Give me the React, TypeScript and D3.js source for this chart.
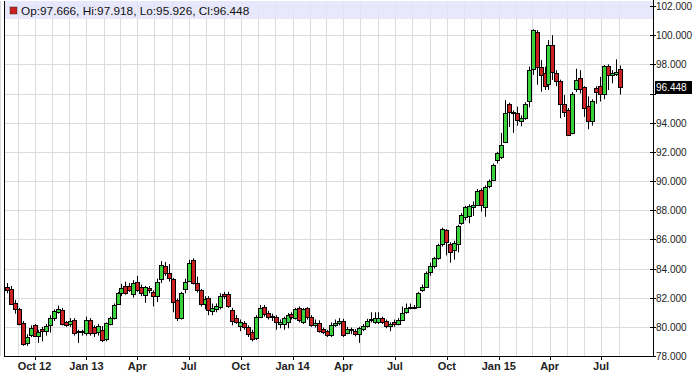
import React, { useEffect, useRef } from 'react';
import * as d3 from 'd3';

// weekly candles, one per Monday
const weeks = d3.timeMonday.range(new Date(2012, 7, 13), new Date(2015, 7, 4));

const opens = [
  82.7, 82.6, 81.65, 81.2, 80.25, 78.9, 79.45, 80.1, 79.4, 79.85, 79.7, 80.1, 80.6, 81.0, 81.15, 80.3,
  80.2, 80.45, 79.7, 79.65, 79.6, 80.5, 80.0, 79.65, 79.8, 79.15, 80.2, 80.6, 81.6, 82.3, 82.8, 82.8,
  82.25, 83.05, 82.7, 82.18, 82.64, 82.4, 82.1, 83.26, 84.17, 83.67, 83.26, 81.84, 80.6, 82.57, 83.17, 84.58,
  82.98, 82.53, 81.57, 81.96, 81.1, 81.2, 81.34, 82.25, 82.25, 81.16, 80.6, 80.06, 80.29, 80.0, 79.67, 79.25,
  80.7, 81.34, 80.93, 80.75, 80.65, 80.2, 80.2, 80.3, 80.88, 80.6, 81.27, 80.36, 81.27, 80.7, 80.13, 80.29,
  79.83, 79.74, 79.44, 80.13, 80.24, 80.43, 79.6, 79.82, 79.74, 79.5, 79.83, 80.06, 80.45, 80.36, 80.35, 80.58,
  80.4, 80.05, 80.35, 80.2, 80.5, 81.0, 81.28, 81.3, 81.38, 82.5, 82.75, 83.78, 84.19, 84.69, 85.67, 86.63,
  85.67, 85.26, 85.67, 87.09, 87.55, 87.6, 88.25, 88.35, 89.38, 88.19, 89.65, 90.06, 91.44, 91.67, 92.7, 95.28,
  94.64, 94.68, 94.14, 94.3, 95.5, 97.66, 100.24, 97.8, 97.38, 96.65, 99.33, 97.38, 96.88, 95.26, 94.87, 93.27,
  96.29, 97.04, 96.42, 95.14, 94.11, 96.35, 96.54, 96.0, 97.9, 97.27, 97.34, 97.666,
];
const highs = [
  83.0, 82.8, 81.85, 81.3, 80.4, 79.5, 80.1, 80.2, 79.8, 80.0, 80.2, 80.8, 81.2, 81.45, 81.3, 80.4,
  80.6, 80.6, 79.8, 79.8, 80.7, 80.6, 80.1, 80.2, 80.05, 80.3, 80.7, 81.6, 82.4, 82.95, 83.1, 83.0,
  83.2, 83.5, 82.9, 82.8, 82.8, 82.5, 83.3, 84.5, 84.45, 84.3, 83.35, 81.95, 82.4, 83.3, 84.6, 84.7,
  83.45, 82.6, 82.1, 82.1, 81.6, 81.6, 82.3, 82.4, 82.4, 81.3, 80.8, 80.5, 80.4, 80.1, 79.8, 80.8,
  81.5, 81.5, 81.1, 80.9, 80.8, 80.5, 80.7, 80.95, 81.0, 81.3, 81.4, 81.3, 81.35, 80.8, 80.5, 80.45,
  79.95, 79.8, 80.3, 80.5, 80.6, 80.55, 80.0, 79.95, 79.85, 80.0, 80.2, 80.55, 81.0, 81.0, 81.0, 80.7,
  80.5, 80.3, 80.5, 80.6, 81.4, 81.6, 81.6, 81.5, 82.4, 82.9, 83.8, 84.4, 84.8, 85.7, 86.8, 86.7,
  85.8, 85.9, 87.0, 87.8, 88.3, 88.4, 88.6, 89.45, 89.5, 89.7, 90.1, 91.2, 92.0, 93.3, 95.55, 95.37,
  94.85, 95.1, 94.5, 95.4, 97.84, 100.4, 100.35, 98.3, 97.84, 99.67, 100.0, 97.6, 96.95, 95.9, 95.0, 96.1,
  97.7, 97.6, 96.5, 95.8, 95.6, 96.5, 97.15, 97.95, 98.0, 97.6, 98.34, 97.918,
];
const lows = [
  82.3, 81.5, 80.9, 80.1, 78.7, 78.7, 79.3, 79.3, 78.9, 79.0, 79.4, 79.6, 80.4, 80.9, 80.1, 80.0,
  80.0, 79.4, 78.9, 79.4, 79.4, 79.4, 79.3, 79.4, 78.95, 79.0, 80.1, 80.5, 81.5, 82.1, 82.2, 82.4,
  82.0, 82.4, 82.1, 81.65, 82.3, 81.4, 81.7, 83.0, 83.5, 83.1, 81.0, 80.4, 80.5, 82.3, 83.1, 82.9,
  82.35, 81.4, 81.2, 80.8, 80.8, 81.0, 81.2, 81.9, 81.3, 80.1, 80.2, 79.7, 79.8, 79.3, 79.0, 79.1,
  80.6, 80.7, 80.5, 80.4, 79.8, 79.9, 79.8, 79.9, 80.5, 80.5, 80.3, 80.2, 80.5, 80.0, 79.95, 79.6,
  79.5, 79.3, 79.3, 80.0, 80.1, 79.3, 79.5, 79.5, 79.35, 78.9, 79.7, 79.95, 80.3, 80.2, 80.2, 80.2,
  79.9, 79.7, 80.0, 80.1, 80.4, 80.9, 81.2, 81.2, 81.3, 82.4, 82.7, 83.5, 84.0, 84.6, 85.5, 84.9,
  84.4, 84.6, 85.1, 87.0, 87.3, 87.1, 87.6, 88.3, 87.9, 87.55, 89.5, 90.0, 91.2, 91.5, 92.6, 93.7,
  93.3, 93.8, 93.75, 94.2, 95.05, 97.27, 96.6, 96.13, 96.24, 96.24, 96.93, 96.5, 94.3, 94.4, 93.1, 93.2,
  96.1, 96.0, 94.4, 93.55, 93.8, 95.3, 95.45, 95.6, 96.24, 96.7, 97.2, 95.926,
];
const closes = [
  82.5, 81.6, 81.2, 80.2, 78.8, 79.3, 79.9, 79.35, 79.65, 79.7, 80.05, 80.6, 81.1, 81.25, 80.2, 80.15,
  80.4, 79.55, 79.65, 79.7, 80.45, 79.55, 79.6, 80.05, 79.1, 80.25, 80.6, 81.5, 82.3, 82.65, 82.3, 82.5,
  83.0, 82.5, 82.3, 82.7, 82.5, 82.1, 83.1, 84.24, 83.67, 83.33, 81.73, 80.6, 82.3, 83.1, 84.4, 82.98,
  82.53, 81.6, 81.9, 81.16, 81.27, 81.4, 82.1, 82.1, 81.4, 80.42, 80.36, 80.36, 79.97, 79.5, 79.15, 80.7,
  81.27, 80.88, 80.7, 80.65, 80.3, 80.36, 80.6, 80.8, 80.7, 81.2, 80.47, 81.2, 80.65, 80.13, 80.29, 79.74,
  79.67, 79.44, 80.13, 80.29, 80.43, 79.44, 79.83, 79.78, 79.5, 79.9, 80.06, 80.43, 80.52, 80.6, 80.58, 80.35,
  80.05, 80.2, 80.2, 80.5, 80.97, 81.26, 81.33, 81.38, 82.3, 82.7, 83.7, 84.19, 84.69, 85.6, 86.68, 85.84,
  85.1, 85.72, 86.9, 87.66, 88.19, 88.28, 88.35, 89.33, 88.35, 89.56, 90.0, 91.1, 91.9, 92.5, 94.69, 94.75,
  94.75, 94.18, 94.3, 95.28, 97.6, 100.35, 97.84, 97.27, 96.5, 99.33, 97.5, 96.88, 95.28, 94.75, 93.15, 96.0,
  96.93, 96.29, 94.98, 94.14, 95.48, 96.08, 96.0, 97.89, 97.27, 97.43, 97.5, 96.448,
];

const priceTicks = d3.range(78, 102.001, 2);
const quarterTicks = d3.timeMonth.every(3)!.range(new Date(2012, 9, 1), new Date(2015, 7, 1));
const monthTicks = d3.timeMonth.range(new Date(2012, 7, 1), new Date(2015, 8, 1));

const W = 695;
const H = 375;

export default function App() {
  const ref = useRef<SVGSVGElement>(null);

  useEffect(() => {
    const svg = d3.select(ref.current);
    svg.selectAll('*').remove();

    const left = 4, right = 653, top = 1, bottom = 356;
    const x = d3.scaleTime()
      .domain([new Date(2012, 9, 1), new Date(2015, 6, 1)])
      .range([34.5, 601]);
    const y = d3.scaleLinear().domain([78, 102]).range([356, 6]);
    const font = 'Arial, "Liberation Sans", sans-serif';
    const last = opens.length - 1;
    const ly = y(closes[last]);

    svg.append('rect').attr('width', W).attr('height', H).attr('fill', '#fff');

    // grid
    svg.append('g').selectAll('line').data(priceTicks).join('line')
      .attr('x1', left).attr('x2', right)
      .attr('y1', d => Math.round(y(d)) + 0.5).attr('y2', d => Math.round(y(d)) + 0.5)
      .attr('stroke', '#dcdcdc');
    svg.append('g').selectAll('line').data(monthTicks).join('line')
      .attr('x1', d => Math.round(x(d)) + 0.5).attr('x2', d => Math.round(x(d)) + 0.5)
      .attr('y1', top).attr('y2', bottom)
      .attr('stroke', '#dcdcdc');

    // header band
    svg.append('rect')
      .attr('x', left + 1).attr('y', top).attr('width', right - left - 1).attr('height', 18)
      .attr('fill', '#e4e4fb').attr('opacity', 0.85);
    svg.append('rect').attr('x', 10).attr('y', 7).attr('width', 7).attr('height', 7)
      .attr('fill', '#cc1f1f').attr('stroke', '#333').attr('stroke-width', 0.5);
    svg.append('text')
      .attr('x', 21).attr('y', 15)
      .attr('font-family', font).attr('font-size', 11.8).attr('fill', '#111')
      .text(`Op:${opens[last]}, Hi:${highs[last]}, Lo:${lows[last]}, Cl:${closes[last]}`);

    // candles
    const g = svg.append('g');
    weeks.forEach((d, i) => {
      const cx = Math.round(x(d));
      const o = opens[i], c = closes[i];
      g.append('line')
        .attr('x1', cx + 0.5).attr('x2', cx + 0.5)
        .attr('y1', y(highs[i])).attr('y2', y(lows[i]))
        .attr('stroke', '#000');
      const yt = Math.round(y(Math.max(o, c)));
      const yb = Math.round(y(Math.min(o, c)));
      g.append('rect')
        .attr('x', cx - 1.5).attr('y', yt + 0.5)
        .attr('width', 4).attr('height', Math.max(1, yb - yt))
        .attr('fill', c >= o ? '#3ad23a' : '#cc1f1f')
        .attr('stroke', '#000');
    });

    // axes
    svg.append('line').attr('x1', left + 0.5).attr('x2', left + 0.5).attr('y1', top).attr('y2', bottom + 1).attr('stroke', '#000');
    svg.append('line').attr('x1', right + 0.5).attr('x2', right + 0.5).attr('y1', 0).attr('y2', bottom + 1).attr('stroke', '#000');
    svg.append('line').attr('x1', left).attr('x2', right + 1).attr('y1', bottom + 0.5).attr('y2', bottom + 0.5).attr('stroke', '#000');

    const ya = svg.append('g');
    ya.selectAll('line').data(priceTicks).join('line')
      .attr('x1', right - 3).attr('x2', right + 3)
      .attr('y1', d => Math.round(y(d)) + 0.5).attr('y2', d => Math.round(y(d)) + 0.5)
      .attr('stroke', '#000');
    ya.selectAll('text').data(priceTicks.filter(d => Math.abs(y(d) - ly) > 8)).join('text')
      .attr('x', right + 3).attr('y', d => y(d) + 4)
      .attr('font-family', font).attr('font-size', 10).attr('fill', '#222')
      .text(d => d3.format('.3f')(d));

    // last value marker
    svg.append('rect').attr('x', right + 2).attr('y', Math.round(ly) - 6).attr('width', 37).attr('height', 13).attr('fill', '#000');
    svg.append('text').attr('x', right + 3).attr('y', ly + 4)
      .attr('font-family', font).attr('font-size', 10).attr('fill', '#fff')
      .text(d3.format('.3f')(closes[last]));

    // bottom ticks and labels
    const xa = svg.append('g');
    xa.selectAll('line').data(quarterTicks).join('line')
      .attr('x1', d => Math.round(x(d)) + 0.5).attr('x2', d => Math.round(x(d)) + 0.5)
      .attr('y1', bottom).attr('y2', bottom + 4)
      .attr('stroke', '#000');
    xa.selectAll('text').data(quarterTicks).join('text')
      .attr('x', d => x(d)).attr('y', 370)
      .attr('text-anchor', 'middle')
      .attr('font-family', font).attr('font-size', 11).attr('font-weight', 'bold').attr('fill', '#222')
      .text((d, i) => (i === 0 || d.getMonth() === 0) ? d3.timeFormat('%b %y')(d) : d3.timeFormat('%b')(d));
  }, []);

  return (
    <svg ref={ref} width={W} height={H} style={{ position: 'absolute', left: 0, top: 0 }} />
  );
}
